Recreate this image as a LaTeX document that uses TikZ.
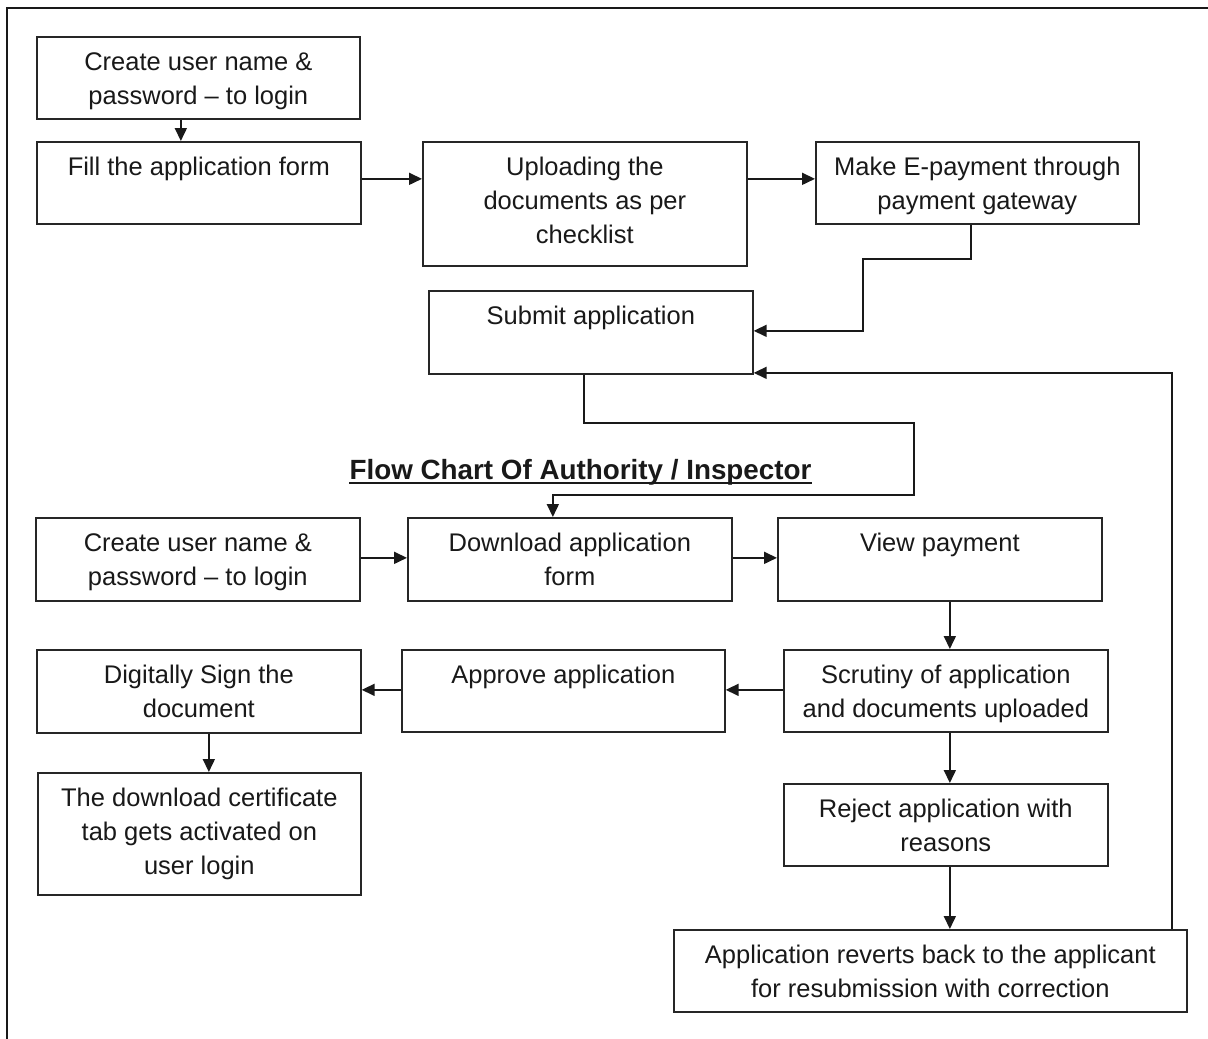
\documentclass[tikz,border=0pt]{standalone}
\usepackage{fontspec}
\setmainfont{Liberation Sans}
\usetikzlibrary{arrows.meta}
\begin{document}
\begin{tikzpicture}[x=1pt,y=-1pt,
  box/.style={draw=black!85, line width=1.7pt, anchor=north west, inner sep=0pt, minimum width=324pt, minimum height=82pt},
  txt/.style={anchor=north, inner sep=0pt, align=center, text=black!90, font=\fontsize{25.5}{34}\selectfont},
  arr/.style={draw=black!90, line width=1.7pt, -{Triangle[length=13pt,width=12pt]}},
  ln/.style={draw=black!90, line width=1.7pt}]
\useasboundingbox (0,0) rectangle (1208,1039);
\fill[white] (0,0) rectangle (1208,1039);
% outer frame (cropped)
\draw[line width=2.5pt, black!90] (7,1039) -- (7,8) -- (1208,8);

% boxes
\node[box, minimum width=323pt] (a1) at (36,36) {};
\node[box] (a2) at (36,141) {};
\node[box, minimum height=124pt] (a3) at (422,141) {};
\node[box, minimum width=323pt] (a4) at (815,141) {};
\node[box, minimum height=83pt] (a5) at (428,290) {};
\node[box, minimum height=83pt] (b1) at (35,517) {};
\node[box, minimum height=83pt] (b2) at (407,517) {};
\node[box, minimum height=83pt] (b3) at (777,517) {};
\node[box, minimum height=83pt] (c1) at (36,649) {};
\node[box, minimum width=323pt] (c2) at (401,649) {};
\node[box] (c3) at (783,649) {};
\node[box, minimum width=323pt, minimum height=122pt] (d1) at (37,772) {};
\node[box] (d3) at (783,783) {};
\node[box, minimum width=513pt] (e3) at (673,929) {};

% texts
\node[txt] (a1t) at ([yshift=-10pt]a1.north) {\strut Create user name \&\\password – to login};
\node[txt] (a2t) at ([yshift=-10pt]a2.north) {\strut Fill the application form};
\node[txt] (a3t) at ([yshift=-10pt]a3.north) {\strut Uploading the\\documents as per\\checklist};
\node[txt] (a4t) at ([yshift=-10pt]a4.north) {\strut Make E-payment through\\payment gateway};
\node[txt] (a5t) at ([yshift=-10pt]a5.north) {\strut Submit application};
\node[txt] (b1t) at ([yshift=-10pt]b1.north) {\strut Create user name \&\\password – to login};
\node[txt] (b2t) at ([yshift=-10pt]b2.north) {\strut Download application\\form};
\node[txt] (b3t) at ([yshift=-10pt]b3.north) {\strut View payment};
\node[txt] (c1t) at ([yshift=-10pt]c1.north) {\strut Digitally Sign the\\document};
\node[txt] (c2t) at ([yshift=-10pt]c2.north) {\strut Approve application};
\node[txt] (c3t) at ([yshift=-10pt]c3.north) {\strut Scrutiny of application\\and documents uploaded};
\node[txt] (d1t) at ([yshift=-10pt]d1.north) {\strut The download certificate\\tab gets activated on\\user login};
\node[txt] (d3t) at ([yshift=-10pt]d3.north) {\strut Reject application with\\reasons};
\node[txt] (e3t) at ([yshift=-10pt]e3.north) {\strut Application reverts back to the applicant\\for resubmission with correction};

% title
\node[anchor=base, inner sep=0pt, font=\fontsize{27.8}{32}\selectfont\bfseries, text=black!90] (title) at (580.5,479) {Flow Chart Of Authority / Inspector};
\draw[line width=2pt, black!90] ([yshift=-4pt]title.base west) -- ([yshift=-4pt]title.base east);

% connectors
\draw[arr] ([xshift=-17.5pt]a1.south) coordinate (p1) -- (p1 |- a2.north);
\draw[arr] ([yshift=4pt]a2.east) coordinate (p2) -- (p2 -| a3.west);
\draw[arr] ([yshift=25pt]a3.east) coordinate (p3) -- (p3 -| a4.west);
\draw[arr] ([xshift=-6.5pt]a4.south) -- ++(0,34) -- ++(-108,0) |- ([yshift=1.5pt]a5.east);
\draw[arr] ([xshift=241.5pt]e3.north) |- ([yshift=-40.5pt]a5.east);
\draw[arr] ([xshift=-7pt]a5.south) -- ++(0,48) -- ++(330,0) -- ++(0,72) -| ([xshift=-17pt]b2.north);
\draw[arr] ([yshift=1.5pt]b1.east) coordinate (p7) -- (p7 -| b2.west);
\draw[arr] ([yshift=1.5pt]b2.east) coordinate (p8) -- (p8 -| b3.west);
\draw[arr] ([xshift=10pt]b3.south) coordinate (p9) -- (p9 |- c3.north);
\draw[arr] ([yshift=1pt]c3.west) coordinate (p10) -- (p10 -| c2.east);
\draw[arr] ([yshift=1pt]c2.west) coordinate (p11) -- (p11 -| c1.east);
\draw[arr] ([xshift=10pt]c1.south) coordinate (p12) -- (p12 |- d1.north);
\draw[arr] ([xshift=4pt]c3.south) coordinate (p13) -- (p13 |- d3.north);
\draw[arr] ([xshift=4pt]d3.south) coordinate (p14) -- (p14 |- e3.north);
\end{tikzpicture}
\end{document}
